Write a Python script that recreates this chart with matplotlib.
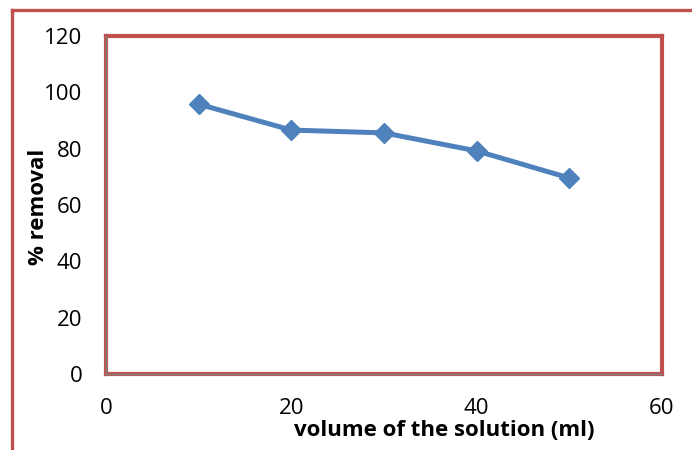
import matplotlib
matplotlib.use("Agg")
import matplotlib.pyplot as plt
from matplotlib.lines import Line2D

plt.rcParams['font.family'] = ['Open Sans', 'DejaVu Sans']

volume = [10, 20, 30, 40, 50]
removal = [95.8, 86.6, 85.6, 79.2, 69.6]
xticks = [0, 20, 40, 60]
yticks = [0, 20, 40, 60, 80, 100, 120]

red = '#C0504D'
blue = '#4F81BD'

fig = plt.figure(figsize=(6.92, 4.5), dpi=100)
ax = fig.add_axes([106/692, 1 - 374/450, 556/692, 338/450])

ax.plot(volume, removal, color=blue, lw=3.6, marker='D', ms=10,
        clip_on=False, zorder=3)

ax.set_xlim(0, 60)
ax.set_ylim(0, 120)
ax.set_xticks(xticks)
ax.set_yticks(yticks)
ax.tick_params(length=0, labelsize=16, pad=17)

for side in ['top', 'right', 'left', 'bottom']:
    ax.spines[side].set_color(red)
    ax.spines[side].set_linewidth(3)

# thin grey axis lines inside the red border
ax.axvline(0, color='#808080', lw=1, clip_on=False, zorder=4)
ax.axhline(0, color='#808080', lw=1, clip_on=False, zorder=4)

ax.set_xlabel('volume of the solution (ml)', fontsize=16, fontweight='bold')
ax.set_ylabel('% removal', fontsize=16, fontweight='bold')
ax.xaxis.set_label_coords((444 - 106) / 556, (374 - 431) / 338)
ax.yaxis.set_label_coords((38 - 106) / 556, (374 - 207) / 338)
ax.xaxis.label.set_va('center')
ax.yaxis.label.set_va('center')

# outer chart frame (left and top edges visible)
fig.add_artist(Line2D([12/692, 12/692], [0, 1 - 10/450], color=red, lw=2.4,
                      transform=fig.transFigure))
fig.add_artist(Line2D([12/692, 1], [1 - 10/450, 1 - 10/450], color=red, lw=2.4,
                      transform=fig.transFigure))

fig.savefig('out.png', dpi=100)
